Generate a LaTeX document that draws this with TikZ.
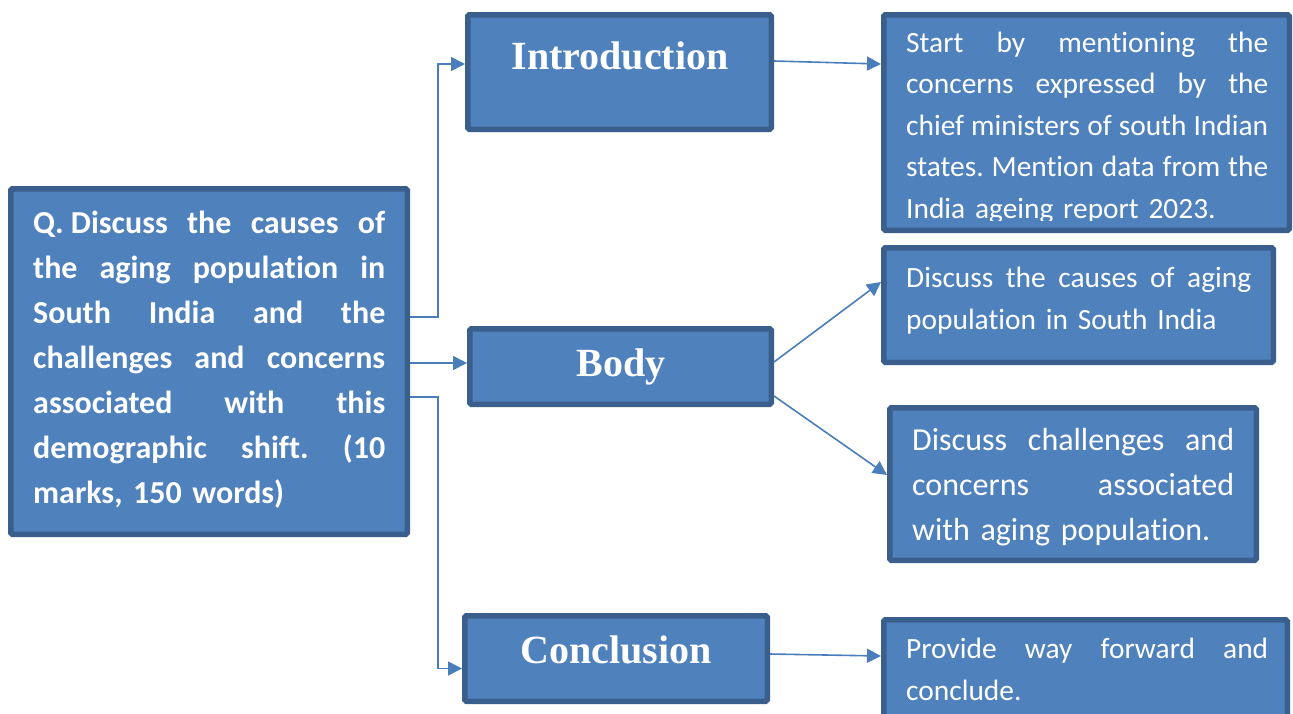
\documentclass[tikz,border=0pt]{standalone}
\usepackage{fontspec}
\setmainfont{Carlito}[Ligatures=NoCommon]
\newfontfamily\headfont{Liberation Serif}
\usetikzlibrary{arrows.meta}
\frenchspacing

\definecolor{boxfill}{HTML}{4F81BD}
\definecolor{boxline}{HTML}{3A5F8D}
\definecolor{linkblue}{HTML}{4A7EBB}

% \jw holds the width of the text block; \jline spreads its words over it,
% \lline keeps a line at its natural width
\newcommand\jw{100pt}
\newcommand\jline[1]{\noindent\hbox to \jw{\spaceskip=0.226em plus 1fil\xspaceskip=\spaceskip #1}\par}
\newcommand\lline[1]{\noindent\hbox{#1}\par}

\tikzset{
  box/.style={draw=boxline, fill=boxfill, line width=5.5pt, rounded corners=1.5pt,
              inner sep=0pt, outer sep=2.75pt},
  head/.style={text=white, inner sep=0pt, anchor=base,
               font=\headfont\bfseries\fontsize{40}{48}\selectfont},
  body/.style={text=white, inner sep=0pt, anchor=base west, text width=#1,
               execute at begin node={\def\jw{#1}}},
  conn/.style={draw=linkblue, line width=1.6pt, -{Triangle[length=14pt,width=14pt]}},
}

\begin{document}
\begin{tikzpicture}[x=1pt, y=-1pt]
\useasboundingbox (0,0) rectangle (1293,713);
\clip (0,0) rectangle (1293,713);

% boxes
\node[box, minimum width=396.5pt, minimum height=345.5pt] (q) at (209,361.5) {};
\node[box, minimum width=303.5pt, minimum height=114.5pt] (intro) at (619.5,72) {};
\node[box, minimum width=301.5pt, minimum height=75.5pt] (body) at (620.5,366.5) {};
\node[box, minimum width=302.5pt, minimum height=85.5pt] (concl) at (616,658.5) {};
\node[box, minimum width=405.5pt, minimum height=215.5pt] (itext) at (1086.5,122.5) {};
\node[box, minimum width=389.5pt, minimum height=114.5pt] (btext1) at (1078.5,305) {};
\node[box, minimum width=366.5pt, minimum height=152.5pt] (btext2) at (1073,484) {};
\node[box, minimum width=403.5pt, minimum height=112.5pt] (ctext) at (1085.5,676) {};

% question
\node[body=352pt, font=\fontsize{32}{45}\selectfont\bfseries] (qlabel) at (33,233) {%
  \jline{\mbox{Q. Discuss} the causes of}
  \jline{the aging population in}
  \jline{South India and the}
  \jline{challenges and concerns}
  \jline{associated with this}
  \jline{demographic shift. (10}
  \lline{marks, 150 words)}};

% section headings
\node[head] (introlabel) at (620,69) {Introduction};
\node[head] (bodylabel) at (621,376) {Body};
\node[head] (concllabel) at (616,663) {Conclusion};

% hints
\begin{scope}
  \clip (881,12) rectangle (1292,220);
  \node[body=362pt, font=\fontsize{29.4}{41.5}\selectfont] (ilabel) at (906,52) {%
    \jline{Start by mentioning the}
    \jline{concerns expressed by the}
    \jline{chief ministers of south Indian}
    \jline{states. Mention data from the}
    \lline{India ageing report 2023.}};
\end{scope}

\node[body=345pt, font=\fontsize{29.4}{42}\selectfont] (b1label) at (906,287) {%
  \jline{Discuss the causes of aging}
  \lline{population in South India}};

\node[body=322pt, font=\fontsize{32}{45}\selectfont] (b2label) at (912,450) {%
  \jline{Discuss challenges and}
  \jline{concerns associated}
  \lline{with aging population.}};

\node[body=362pt, font=\fontsize{29.4}{41.5}\selectfont] (clabel) at (906,658.5) {%
  \jline{Provide way forward and}
  \lline{conclude.}};

% connectors
\draw[conn] ([yshift=44.5pt]q.east) -- ++(28,0) |- ([yshift=8pt]intro.west);
\draw[conn] ([yshift=-1.5pt]q.east) -- ([yshift=3.5pt]body.west);
\draw[conn] ([yshift=-35.5pt]q.east) -- ++(28,0) |- ([yshift=-10pt]concl.west);
\draw[conn] ([yshift=11pt]intro.east) -- ([yshift=58.5pt]itext.west);
\draw[conn] ([yshift=4.5pt]body.east) -- ([yshift=23pt]btext1.west);
\draw[conn] ([yshift=-29.5pt]body.east) -- ([yshift=9pt]btext2.west);
\draw[conn] ([yshift=4.5pt]concl.east) -- ([yshift=20pt]ctext.west);
\end{tikzpicture}
\end{document}
